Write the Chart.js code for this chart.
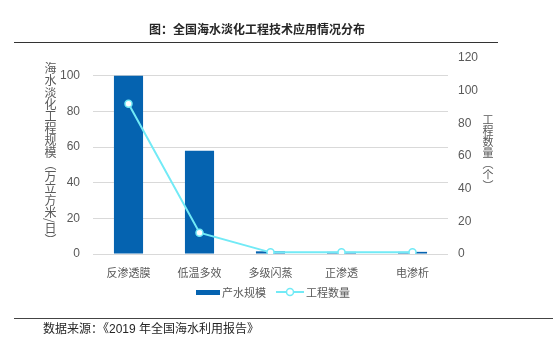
<!DOCTYPE html>
<html><head><meta charset="utf-8">
<script src="https://cdn.jsdelivr.net/npm/chart.js@4/dist/chart.umd.min.js"></script>
<style>
html,body{margin:0;padding:0;background:#fff;}
#wrap{position:relative;width:553px;height:344px;overflow:hidden;font-family:"Liberation Sans","Noto Sans CJK SC",sans-serif;}
canvas{position:absolute;left:0;top:0;}
.abs{position:absolute;white-space:nowrap;}
#title{left:0;width:514px;top:20px;text-align:center;font-size:12px;font-weight:bold;color:#262626;font-family:"Noto Sans CJK SC",sans-serif;}
#rule1{left:14px;top:42px;width:484px;height:0;border-top:1.5px solid #333;}
#rule2{left:14px;top:318px;width:539px;height:0;border-top:1.5px solid #444;}
#src{left:43px;top:319px;font-size:12px;color:#262626;font-family:"Liberation Sans","Noto Sans CJK SC",sans-serif;}
.vt{writing-mode:vertical-rl;text-orientation:mixed;color:#595959;font-family:"Noto Sans CJK SC",sans-serif;line-height:1;}
#ly{left:44px;top:62px;font-size:12px;}
#ry{left:482px;top:114px;font-size:11px;}
.leg{font-size:11px;color:#595959;font-family:"Noto Sans CJK SC",sans-serif;top:284px;line-height:16px;}
</style></head>
<body><div id="wrap">
<canvas id="c" width="553" height="344"></canvas>
<div id="title" class="abs">图：全国海水淡化工程技术应用情况分布</div>
<div id="rule1" class="abs"></div>
<div id="ly" class="abs vt">海水淡化工程规模（万立方米/日）</div>
<div id="ry" class="abs vt">工程数量（个）</div>
<div class="abs" style="left:196px;top:290px;width:24px;height:5px;background:#0563B0"></div>
<div class="abs leg" style="left:222px">产水规模</div>
<svg class="abs" style="left:274px;top:286px" width="32" height="12"><line x1="2" y1="6" x2="30" y2="6" stroke="#72EAF6" stroke-width="2"/><circle cx="16" cy="6" r="3.5" fill="#fff" stroke="#72EAF6" stroke-width="1.5"/></svg>
<div class="abs leg" style="left:306px">工程数量</div>
<div id="rule2" class="abs"></div>
<div id="src" class="abs">数据来源：《2019 年全国海水利用报告》</div>
</div>
<script>
const categories = ["反渗透膜","低温多效","多级闪蒸","正渗透","电渗析"];
const scaleValues = [100, 58, 1.5, 1.2, 1.2];
const projectCounts = [92, 13, 1, 1, 1];
const leftTicks = [0, 20, 40, 60, 80, 100];
const rightTicks = [0, 20, 40, 60, 80, 100, 120];

const tickFont = {family:"'Liberation Sans','Noto Sans CJK SC',sans-serif", size:12};
new Chart(document.getElementById('c'), {
  data: {
    labels: categories,
    datasets: [
      {type:'line', label:'工程数量', data: projectCounts, yAxisID:'y1', order:0,
       borderColor:'#72EAF6', borderWidth:2, tension:0,
       pointRadius:3.5, pointBackgroundColor:'#fff', pointBorderColor:'#72EAF6', pointBorderWidth:1.5},
      {type:'bar', label:'产水规模', data: scaleValues, yAxisID:'y', order:1,
       backgroundColor:'#0563B0', categoryPercentage:1, barPercentage:0.41}
    ]
  },
  options: {
    responsive:false, animation:false, devicePixelRatio:1,
    layout:{padding:{top:58, left:0, right:0, bottom:0}},
    plugins:{legend:{display:false}, tooltip:{enabled:false}},
    scales:{
      x:{grid:{display:false}, border:{display:false},
         ticks:{color:'#595959', font:{family:"'Noto Sans CJK SC',sans-serif", size:11}, padding:4},
         afterFit(s){ s.height = 90; }},
      y:{position:'left', min:0, max:110,
         afterBuildTicks(s){ s.ticks = leftTicks.map(v=>({value:v})); },
         grid:{color:'#d9d9d9', lineWidth:1, drawTicks:false}, border:{display:false},
         ticks:{color:'#595959', font:tickFont, padding:13},
         afterFit(s){ s.width = 93; }},
      y1:{position:'right', min:0, max:120,
         afterBuildTicks(s){ s.ticks = rightTicks.map(v=>({value:v})); },
         grid:{display:false, drawTicks:false}, border:{display:false},
         ticks:{color:'#595959', font:tickFont, padding:10},
         afterFit(s){ s.width = 105; }}
    }
  }
});
</script>
</body></html>
